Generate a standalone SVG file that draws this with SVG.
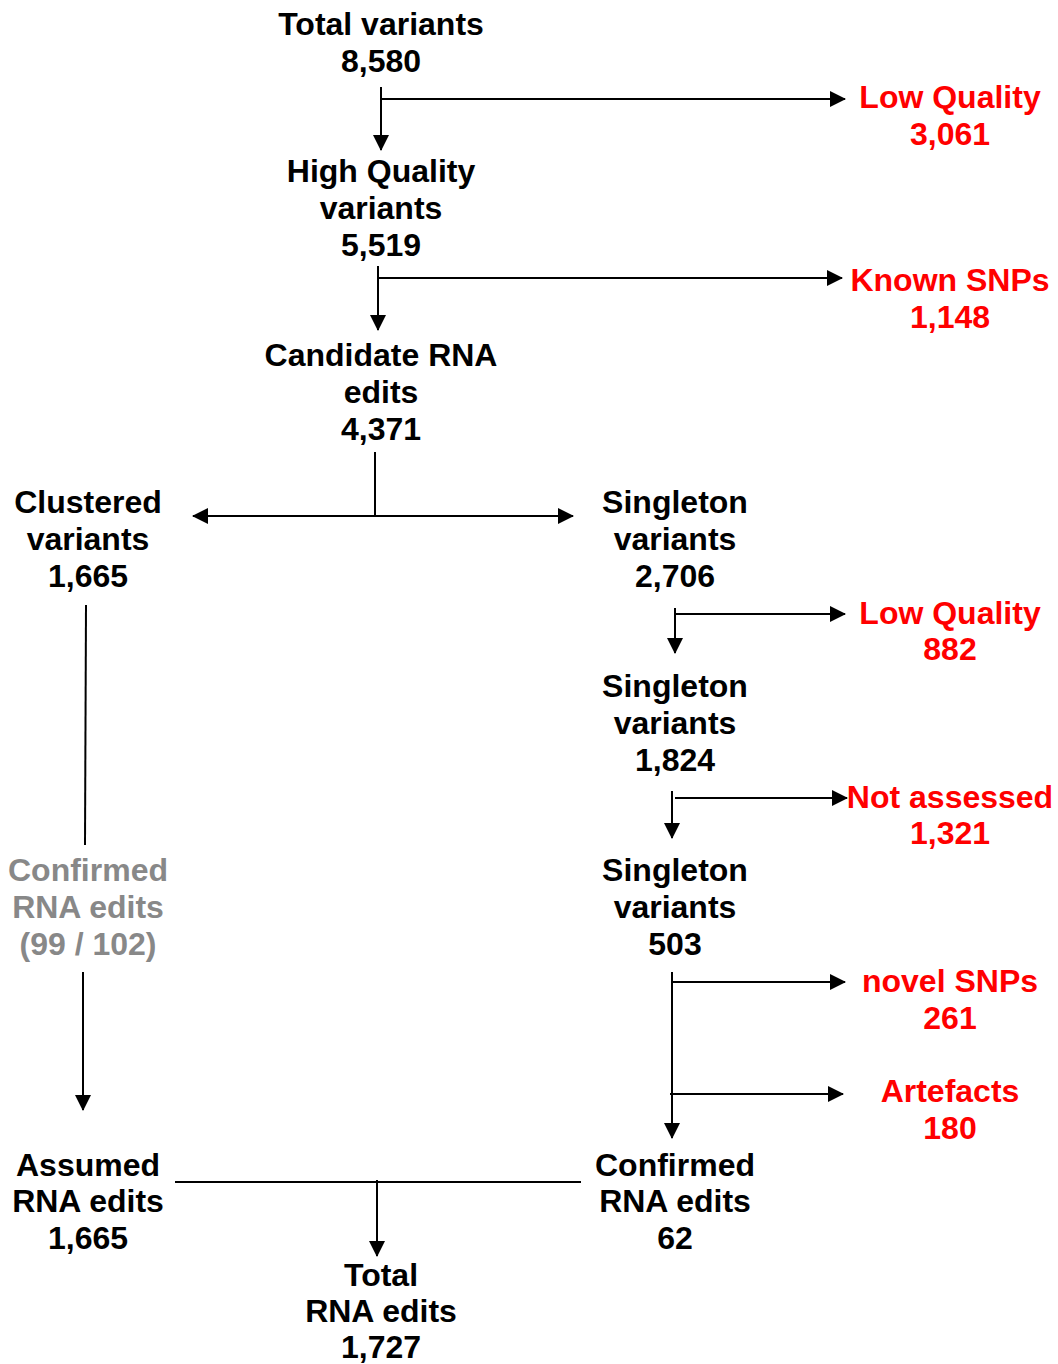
<svg xmlns="http://www.w3.org/2000/svg" width="1058" height="1364" viewBox="0 0 1058 1364">
<style>
text{font-family:"Liberation Sans",Arial,sans-serif;font-weight:bold;font-size:32px;text-anchor:middle}
.k{fill:#000}.r{fill:#ff0000}.g{fill:#888888}
.c line{stroke:#000;stroke-width:2;fill:none}
</style>
<defs>
<marker id="ah" markerWidth="16" markerHeight="16" viewBox="0 0 16 16" refX="15" refY="8" orient="auto-start-reverse" markerUnits="userSpaceOnUse">
<path d="M0,0 L16,8 L0,16 z" fill="#000"/>
</marker>
</defs>
<g class="c" id="connectors">
<line x1="381" y1="87" x2="381" y2="150" marker-end="url(#ah)"/>
<line x1="381" y1="99" x2="845" y2="99" marker-end="url(#ah)"/>
<line x1="378" y1="266" x2="378" y2="330" marker-end="url(#ah)"/>
<line x1="378" y1="278" x2="842" y2="278" marker-end="url(#ah)"/>
<line x1="375" y1="452" x2="375" y2="516"/>
<line x1="193" y1="516" x2="573" y2="516" marker-start="url(#ah)" marker-end="url(#ah)"/>
<line x1="86" y1="605" x2="85" y2="845"/>
<line x1="83" y1="972" x2="83" y2="1110" marker-end="url(#ah)"/>
<line x1="675" y1="608" x2="675" y2="653" marker-end="url(#ah)"/>
<line x1="675" y1="614" x2="845" y2="614" marker-end="url(#ah)"/>
<line x1="672" y1="791" x2="672" y2="838" marker-end="url(#ah)"/>
<line x1="675" y1="798" x2="847" y2="798" marker-end="url(#ah)"/>
<line x1="672" y1="972" x2="672" y2="1138" marker-end="url(#ah)"/>
<line x1="672" y1="982" x2="845" y2="982" marker-end="url(#ah)"/>
<line x1="670" y1="1094" x2="843" y2="1094" marker-end="url(#ah)"/>
<line x1="175" y1="1182" x2="581" y2="1182"/>
<line x1="377" y1="1180" x2="377" y2="1256" marker-end="url(#ah)"/>
</g>
<g id="total-variants"><text class="k" x="381" y="35">Total variants</text><text class="k" x="381" y="72">8,580</text></g>
<g id="low-quality-1"><text class="r" x="950" y="108">Low Quality</text><text class="r" x="950" y="145">3,061</text></g>
<g id="high-quality"><text class="k" x="381" y="182">High Quality</text><text class="k" x="381" y="219">variants</text><text class="k" x="381" y="256">5,519</text></g>
<g id="known-snps"><text class="r" x="950" y="291">Known SNPs</text><text class="r" x="950" y="328">1,148</text></g>
<g id="candidate"><text class="k" x="381" y="366">Candidate RNA</text><text class="k" x="381" y="403">edits</text><text class="k" x="381" y="440">4,371</text></g>
<g id="clustered"><text class="k" x="88" y="513">Clustered</text><text class="k" x="88" y="550">variants</text><text class="k" x="88" y="587">1,665</text></g>
<g id="singleton-1"><text class="k" x="675" y="513">Singleton</text><text class="k" x="675" y="550">variants</text><text class="k" x="675" y="587">2,706</text></g>
<g id="low-quality-2"><text class="r" x="950" y="624">Low Quality</text><text class="r" x="950" y="660">882</text></g>
<g id="singleton-2"><text class="k" x="675" y="697">Singleton</text><text class="k" x="675" y="734">variants</text><text class="k" x="675" y="771">1,824</text></g>
<g id="not-assessed"><text class="r" x="950" y="808">Not assessed</text><text class="r" x="950" y="844">1,321</text></g>
<g id="confirmed-gray"><text class="g" x="88" y="881">Confirmed</text><text class="g" x="88" y="918">RNA edits</text><text class="g" x="88" y="955">(99 / 102)</text></g>
<g id="singleton-3"><text class="k" x="675" y="881">Singleton</text><text class="k" x="675" y="918">variants</text><text class="k" x="675" y="955">503</text></g>
<g id="novel-snps"><text class="r" x="950" y="992">novel SNPs</text><text class="r" x="950" y="1029">261</text></g>
<g id="artefacts"><text class="r" x="950" y="1102">Artefacts</text><text class="r" x="950" y="1139">180</text></g>
<g id="assumed"><text class="k" x="88" y="1176">Assumed</text><text class="k" x="88" y="1212">RNA edits</text><text class="k" x="88" y="1249">1,665</text></g>
<g id="confirmed"><text class="k" x="675" y="1176">Confirmed</text><text class="k" x="675" y="1212">RNA edits</text><text class="k" x="675" y="1249">62</text></g>
<g id="total-rna-edits"><text class="k" x="381" y="1286">Total</text><text class="k" x="381" y="1322">RNA edits</text><text class="k" x="381" y="1358">1,727</text></g>
</svg>
